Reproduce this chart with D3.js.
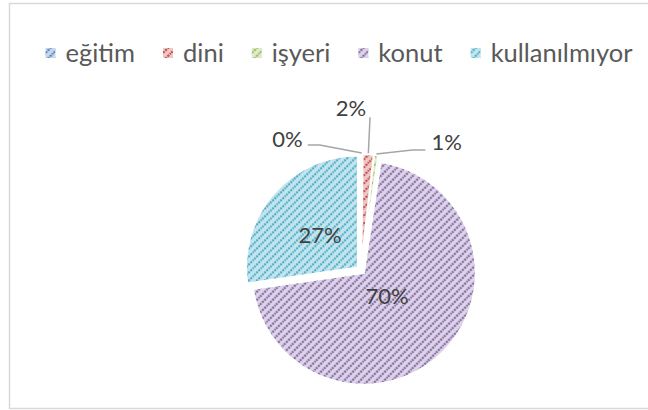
<!DOCTYPE html>
<html>
<head>
<meta charset="utf-8">
<script src="https://cdn.jsdelivr.net/npm/d3@7"></script>
<style>
  body { margin: 0; background: #fff; }
  svg { display: block; font-family: Lato, "Open Sans", sans-serif; }
</style>
</head>
<body>
<div id="chart"></div>
<script>
// data (percent shares)
const categories = ["eğitim", "dini", "işyeri", "konut", "kullanılmıyor"];
const values = [0.2, 1.6, 0.6, 70.3, 27.3];

// style
const fgColors = ["#4f81bd", "#c0504d", "#9bbb59", "#8064a2", "#4bacc6"];
const bgColors = ["#c9d7eb", "#efc7c6", "#e0ebcd", "#ddd4e8", "#c4e5ee"];

const width = 648, height = 410;
const cx = 361, cy = 270, radius = 112, explode = 4;

const svg = d3.select("#chart").append("svg")
    .attr("width", width)
    .attr("height", height);

// frame of the chart area
svg.append("rect")
    .attr("x", 9.5).attr("y", 3.5)
    .attr("width", 650).attr("height", 405)
    .attr("fill", "#fff")
    .attr("stroke", "#d9d9d9")
    .attr("stroke-width", 1.5);

// hatch patterns, one per category
const defs = svg.append("defs");
categories.forEach((c, i) => {
  const p = defs.append("pattern")
      .attr("id", "pat" + i)
      .attr("patternUnits", "userSpaceOnUse")
      .attr("width", 8).attr("height", 8);
  p.append("rect").attr("width", 8).attr("height", 8).attr("fill", bgColors[i]);
  p.append("path")
      .attr("d", "M-2,2L2,-2M0,8L8,0M6,10L10,6")
      .attr("stroke", fgColors[i])
      .attr("stroke-width", 2.2)
      .attr("stroke-dasharray", "2.2,1");
});

const pie = d3.pie().sort(null).value(d => d);
const arcs = pie(values);
const total = d3.sum(values);
const arc = d3.arc().innerRadius(0).outerRadius(radius);

const mid = d => (d.startAngle + d.endAngle) / 2;
const shift = d => [Math.sin(mid(d)) * explode, -Math.cos(mid(d)) * explode];
const pct = d => Math.round(d.value / total * 100) + "%";

const g = svg.append("g").attr("transform", "translate(" + cx + "," + cy + ")");

const slice = g.selectAll(".slice")
    .data(arcs)
  .enter().append("g")
    .attr("class", "slice")
    .attr("transform", d => "translate(" + shift(d) + ")");

slice.append("path")
    .attr("d", arc)
    .attr("fill", (d, i) => "url(#pat" + i + ")")
    .attr("stroke", "#fff")
    .attr("stroke-width", 2);

// labels inside the two big slices
const insideDist = { 3: 33, 4: 50 };
slice.filter(d => insideDist[d.index] !== undefined)
  .append("text")
    .attr("x", d => Math.sin(mid(d)) * insideDist[d.index])
    .attr("y", d => -Math.cos(mid(d)) * insideDist[d.index])
    .attr("dy", "0.36em")
    .attr("text-anchor", "middle")
    .attr("font-size", 22)
    .attr("fill", "#404040")
    .text(pct);

// outside labels with leader lines for the small slices
// elbow offset from the arc edge, horizontal run after the elbow, text placement
const leaders = {
  0: { elbow: [-42, -8], run: -12, anchor: "end", tdx: -5, tdy: -6 },
  1: { elbow: [1.7, -36], run: 0, anchor: "middle", tdx: -19, tdy: -9 },
  2: { elbow: [36, -4], run: 13, anchor: "start", tdx: 6, tdy: -8 }
};
const outer = svg.append("g").attr("transform", "translate(" + cx + "," + cy + ")");
arcs.forEach(d => {
  const L = leaders[d.index];
  if (!L) return;
  const s = shift(d);
  const p0 = [s[0] + Math.sin(mid(d)) * (radius + 1), s[1] - Math.cos(mid(d)) * (radius + 1)];
  const p1 = [p0[0] + L.elbow[0], p0[1] + L.elbow[1]];
  const p2 = [p1[0] + L.run, p1[1]];
  outer.append("path")
      .attr("d", d3.line()([p0, p1, p2]))
      .attr("fill", "none")
      .attr("stroke", "#a6a6a6")
      .attr("stroke-width", 1.5);
  outer.append("text")
      .attr("x", p2[0] + L.tdx)
      .attr("y", p2[1] + L.tdy)
      .attr("dy", "0.36em")
      .attr("text-anchor", L.anchor)
      .attr("font-size", 22)
      .attr("fill", "#404040")
      .text(pct(d));
});

// legend, centred above the pie
const legend = svg.append("g").attr("class", "legend");
const items = legend.selectAll("g")
    .data(categories)
  .enter().append("g");
items.append("rect")
    .attr("width", 10).attr("height", 10)
    .attr("y", -5)
    .attr("fill", (d, i) => "url(#pat" + i + ")");
items.append("text")
    .attr("x", 20)
    .attr("dy", "0.36em")
    .attr("font-size", 25.5)
    .attr("fill", "#595959")
    .text(d => d);

let x = 0;
items.each(function () {
  const w = d3.select(this).select("text").node().getComputedTextLength();
  d3.select(this).attr("transform", "translate(" + x + ",0)");
  x += 20 + w + 28;
});
const legendWidth = x - 28;
legend.attr("transform", "translate(" + (339 - legendWidth / 2) + ",53)");
</script>
</body>
</html>
